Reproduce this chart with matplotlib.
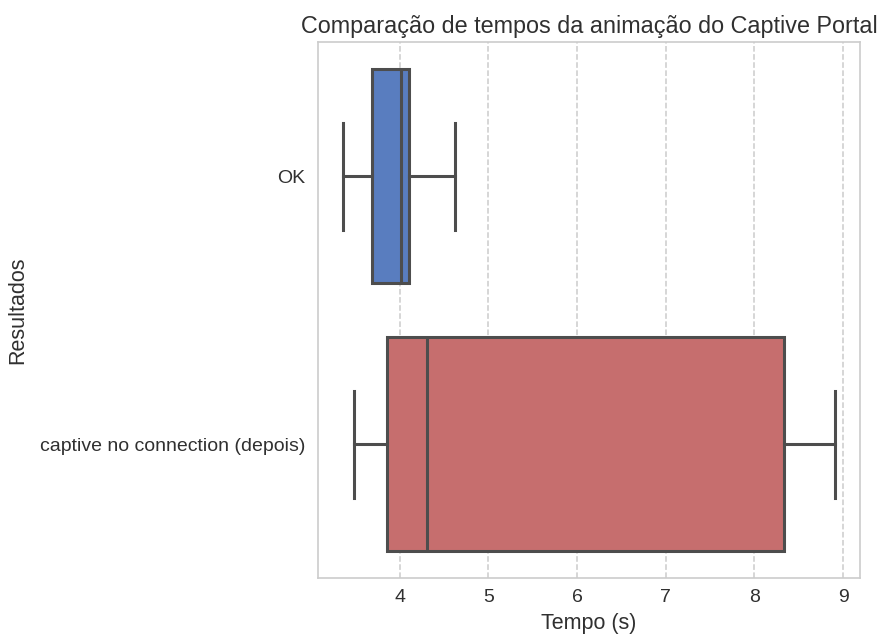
import matplotlib
matplotlib.use("Agg")
import matplotlib.pyplot as plt

# box statistics (seconds)
categories = ["OK", "captive no connection (depois)"]
whislo = [3.36, 3.49]
q1 = [3.69, 3.86]
med = [4.02, 4.31]
q3 = [4.11, 8.34]
whishi = [4.63, 8.91]
box_colors = ["#597DBF", "#C66E6E"]

TEXT = "#303030"
LINE = "#4d4d4d"

plt.rcParams["font.family"] = ["Liberation Sans", "DejaVu Sans"]

fig = plt.figure(figsize=(8.79, 6.39), dpi=100)
ax = fig.add_axes([0.362, 0.0955, 0.616, 0.838])

stats = [
    {"label": lab, "whislo": lo, "q1": a, "med": m, "q3": b, "whishi": hi, "fliers": []}
    for lab, lo, a, m, b, hi in zip(categories, whislo, q1, med, q3, whishi)
]
bp = ax.bxp(stats, positions=range(len(categories)), widths=0.8, capwidths=0.4,
            orientation="horizontal", patch_artist=True, showfliers=False,
            boxprops=dict(edgecolor=LINE, linewidth=2.2),
            medianprops=dict(color=LINE, linewidth=2.2),
            whiskerprops=dict(color=LINE, linewidth=2.2),
            capprops=dict(color=LINE, linewidth=2.2))
for patch, c in zip(bp["boxes"], box_colors):
    patch.set_facecolor(c)

ax.margins(x=0.05)
ax.set_ylim(1.5, -0.5)
ax.set_xticks([4, 5, 6, 7, 8, 9])

ax.xaxis.grid(True, color="#cccccc", linestyle="--", linewidth=1.1)
ax.yaxis.grid(False)
ax.set_axisbelow(True)
for sp in ax.spines.values():
    sp.set_color("#cccccc")
    sp.set_linewidth(1.2)
ax.tick_params(length=0, labelsize=14, colors=TEXT)
ax.tick_params(axis="y", pad=9.5)
ax.tick_params(axis="x", pad=8)

ax.set_title("Comparação de tempos da animação do Captive Portal",
             fontsize=16.8, color=TEXT, pad=7)
ax.set_xlabel("Tempo (s)", fontsize=15.5, color=TEXT, labelpad=5)
ax.set_ylabel("Resultados", fontsize=15.5, color=TEXT, labelpad=8)

fig.savefig("out.png", dpi=100, facecolor="white")
